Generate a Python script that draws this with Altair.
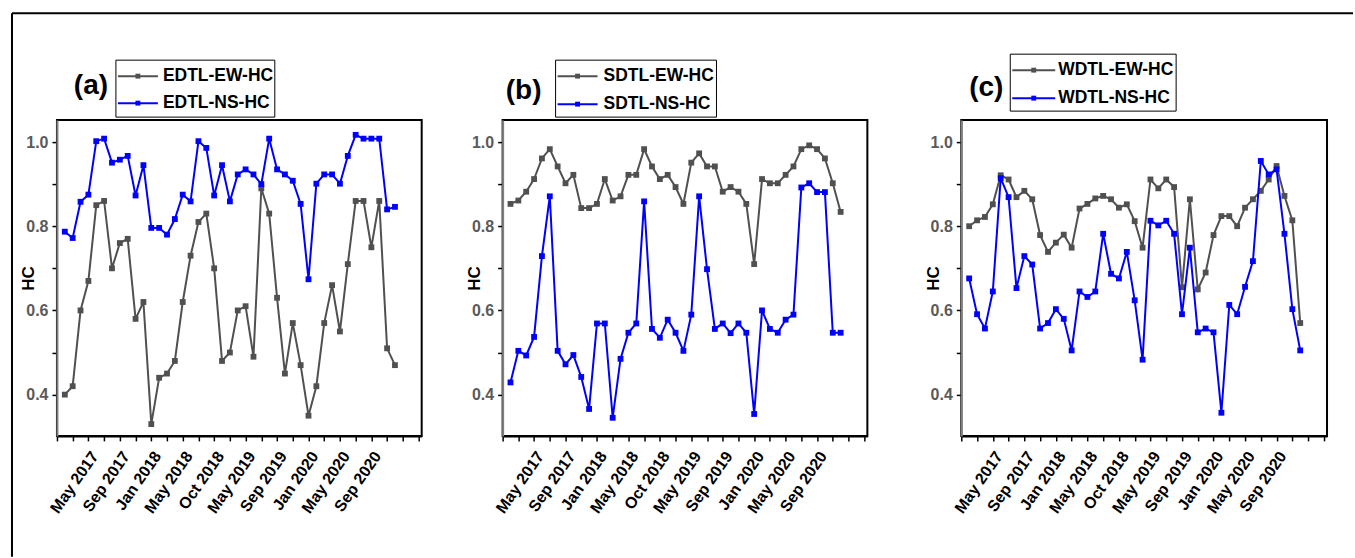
import json

import altair as alt
import pandas as pd

# ---- data -------------------------------------------------------------
idx = list(range(1, 44))

tick_values = list(range(0, 47, 2))
label_ticks = [4, 8, 12, 16, 20, 24, 28, 32, 36, 40]
month_labels = ["May 2017", "Sep 2017", "Jan 2018", "May 2018", "Oct 2018",
                "May 2019", "Sep 2019", "Jan 2020", "May 2020", "Sep 2020"]

edtl_ew = [0.40, 0.42, 0.60, 0.67, 0.85, 0.86, 0.70, 0.76, 0.77, 0.58,
           0.62, 0.33, 0.44, 0.45, 0.48, 0.62, 0.73, 0.81, 0.83, 0.70,
           0.48, 0.50, 0.60, 0.61, 0.49, 0.89, 0.83, 0.63, 0.45, 0.57,
           0.47, 0.35, 0.42, 0.57, 0.66, 0.55, 0.71, 0.86, 0.86, 0.75,
           0.86, 0.51, 0.47]
edtl_ns = [0.787, 0.772, 0.858, 0.875, 1.002, 1.008, 0.951, 0.958, 0.967, 0.873,
           0.945, 0.796, 0.796, 0.780, 0.817, 0.875, 0.859, 1.002, 0.986, 0.873,
           0.945, 0.859, 0.923, 0.935, 0.923, 0.900, 1.008, 0.935, 0.923, 0.908,
           0.853, 0.674, 0.901, 0.923, 0.923, 0.901, 0.967, 1.017, 1.008, 1.008,
           1.008, 0.840, 0.846]

sdtl_ew = [0.853, 0.861, 0.882, 0.912, 0.961, 0.983, 0.942, 0.902, 0.922, 0.843,
           0.843, 0.853, 0.912, 0.861, 0.871, 0.922, 0.922, 0.983, 0.942, 0.912,
           0.922, 0.893, 0.853, 0.951, 0.973, 0.942, 0.942, 0.882, 0.893, 0.882,
           0.853, 0.710, 0.912, 0.902, 0.902, 0.922, 0.942, 0.983, 0.992, 0.983,
           0.961, 0.902, 0.834]
sdtl_ns = [0.429, 0.504, 0.493, 0.537, 0.729, 0.871, 0.504, 0.472, 0.494, 0.442,
           0.366, 0.569, 0.569, 0.345, 0.485, 0.547, 0.569, 0.859, 0.556, 0.535,
           0.578, 0.547, 0.504, 0.590, 0.871, 0.698, 0.556, 0.569, 0.546, 0.569,
           0.547, 0.354, 0.600, 0.556, 0.547, 0.578, 0.590, 0.892, 0.902, 0.881,
           0.881, 0.547, 0.547]

wdtl_ew = [0.800, 0.814, 0.822, 0.852, 0.921, 0.911, 0.869, 0.884, 0.864, 0.779,
           0.739, 0.761, 0.780, 0.749, 0.842, 0.853, 0.866, 0.872, 0.864, 0.844,
           0.852, 0.812, 0.749, 0.911, 0.890, 0.911, 0.893, 0.655, 0.864, 0.650,
           0.690, 0.779, 0.824, 0.824, 0.800, 0.844, 0.864, 0.884, 0.911, 0.943,
           0.872, 0.814, 0.570]
wdtl_ns = [0.676, 0.591, 0.557, 0.645, 0.914, 0.869, 0.653, 0.729, 0.709, 0.557,
           0.570, 0.603, 0.580, 0.505, 0.645, 0.632, 0.645, 0.782, 0.687, 0.676,
           0.739, 0.624, 0.483, 0.813, 0.802, 0.813, 0.782, 0.591, 0.749, 0.548,
           0.557, 0.548, 0.357, 0.613, 0.591, 0.656, 0.717, 0.955, 0.923, 0.935,
           0.782, 0.603, 0.505]

# ---- style ------------------------------------------------------------
FONT = "Liberation Sans"
GREY = "#505050"
BLUE = "#0000ff"
PANEL_H = 316

x_label_expr = (f"{json.dumps(month_labels)}"
                f"[indexof({json.dumps(label_ticks)}, datum.value)] || ''")
y_label_expr = ("indexof([4, 6, 8, 10], round(datum.value * 10)) >= 0 "
                "? format(datum.value, '.1f') : ''")

x_enc = alt.X(
    "i:Q",
    scale=alt.Scale(domain=[0, 46.4], nice=False, zero=False),
    axis=alt.Axis(values=tick_values, labelExpr=x_label_expr, title=None,
                  labelAngle=-55, labelAlign="right", labelBaseline="middle",
                  labelFontSize=16, labelColor="black", labelPadding=12,
                  labelOffset=6, domainColor="black", labelOverlap=False),
)
y_enc = alt.Y(
    "hc:Q",
    scale=alt.Scale(domain=[0.302, 1.052], nice=False, zero=False),
    axis=alt.Axis(values=[0.4, 0.5, 0.6, 0.7, 0.8, 0.9, 1.0],
                  labelExpr=y_label_expr, title="HC", titleX=-28,
                  titleY=PANEL_H / 2, titleAngle=-90, titleAlign="center",
                  titleBaseline="middle", titleFontSize=17,
                  labelFontSize=16, labelColor="#5a5a5a", labelPadding=4,
                  domainColor="#808080"),
)

PANEL_VIEW = alt.ViewBackground(stroke="black", strokeWidth=2)


def one_row(**kw):
    return alt.Chart(pd.DataFrame({k: [v] for k, v in kw.items()}))


def panel(letter, ew_name, ns_name, ew_vals, ns_vals, width,
          letter_xy, box, sample_x, text_x, rows_y, frame=False):
    df = pd.DataFrame({
        "i": idx + idx,
        "hc": ew_vals + ns_vals,
        "series": [ew_name] * len(idx) + [ns_name] * len(idx),
    })
    base = alt.Chart(df)
    layers = []
    for name, color in ((ew_name, GREY), (ns_name, BLUE)):
        sub = base.transform_filter(alt.datum.series == name)
        layers.append(sub.mark_line(color=color, strokeWidth=2)
                      .encode(x=x_enc, y=y_enc))
        layers.append(sub.mark_point(shape="square", filled=True, size=34,
                                     color=color, opacity=1)
                      .encode(x=x_enc, y=y_enc))

    # panel letter
    layers.append(
        one_row(t=f"({letter})")
        .mark_text(font=FONT, fontSize=28, fontWeight="bold", color="black",
                   align="center", baseline="middle")
        .encode(x=alt.value(letter_xy[0]), y=alt.value(letter_xy[1]),
                text="t:N")
    )

    # legend box above the plot
    bx0, by0, bx1, by1 = box
    layers.append(
        one_row(k=0).mark_rect(fill="white", stroke="black", strokeWidth=1)
        .encode(x=alt.value(bx0), x2=alt.value(bx1),
                y=alt.value(by0), y2=alt.value(by1))
    )
    for name, color, ry in ((ew_name, GREY, rows_y[0]),
                            (ns_name, BLUE, rows_y[1])):
        layers.append(
            one_row(k=0).mark_rule(color=color, strokeWidth=2)
            .encode(x=alt.value(sample_x[0]), x2=alt.value(sample_x[1]),
                    y=alt.value(ry))
        )
        layers.append(
            one_row(k=0).mark_point(shape="square", filled=True, size=24,
                                    color=color, opacity=1)
            .encode(x=alt.value((sample_x[0] + sample_x[1]) / 2),
                    y=alt.value(ry))
        )
        layers.append(
            one_row(t=name)
            .mark_text(font=FONT, fontSize=17.5, fontWeight="bold",
                       color="black", align="left", baseline="middle")
            .encode(x=alt.value(text_x), y=alt.value(ry), text="t:N")
        )

    if frame:
        # outer figure border (top and left edges)
        layers.append(
            one_row(k=0).mark_rule(color="black", strokeWidth=2)
            .encode(x=alt.value(-45), x2=alt.value(1297), y=alt.value(-107))
        )
        layers.append(
            one_row(k=0).mark_rule(color="black", strokeWidth=2)
            .encode(x=alt.value(-45), y=alt.value(-107), y2=alt.value(437))
        )

    return alt.layer(*layers).properties(width=width, height=PANEL_H,
                                         view=PANEL_VIEW)


def gap(width):
    # empty column that only holds horizontal space between panels
    return (one_row(k=0).mark_point(opacity=0)
            .encode(x=alt.value(0), y=alt.value(0))
            .properties(width=width, height=PANEL_H,
                        view=alt.ViewBackground(strokeWidth=0)))


pa = panel("a", "EDTL-EW-HC", "EDTL-NS-HC", edtl_ew, edtl_ns, 365,
           letter_xy=(34, -34), box=(59, -60, 218, -3),
           sample_x=(61, 101), text_x=106, rows_y=(-44, -17), frame=True)
pb = panel("b", "SDTL-EW-HC", "SDTL-NS-HC", sdtl_ew, sdtl_ns, 365,
           letter_xy=(21, -29), box=(53, -60, 214, -3),
           sample_x=(55, 95), text_x=101, rows_y=(-44, -16))
pc = panel("c", "WDTL-EW-HC", "WDTL-NS-HC", wdtl_ew, wdtl_ns, 366,
           letter_xy=(25, -32), box=(49, -66, 215, -9),
           sample_x=(51, 94), text_x=97, rows_y=(-50, -22))

chart = (
    alt.hconcat(pa, gap(81), pb, gap(94), pc, spacing=0, bounds="flush")
    .properties(padding={"left": 10, "top": 11, "right": 0, "bottom": 0},
                background="white")
    .configure_view(strokeWidth=0)
    .configure_axis(grid=False, labelFont=FONT, labelFontWeight="bold",
                    titleFont=FONT, titleFontWeight="bold", titleColor="black",
                    tickColor="black", tickSize=5, tickWidth=1.5,
                    domainWidth=2)
)

chart.save("out.html", embed_options={"renderer": "svg", "actions": False})
